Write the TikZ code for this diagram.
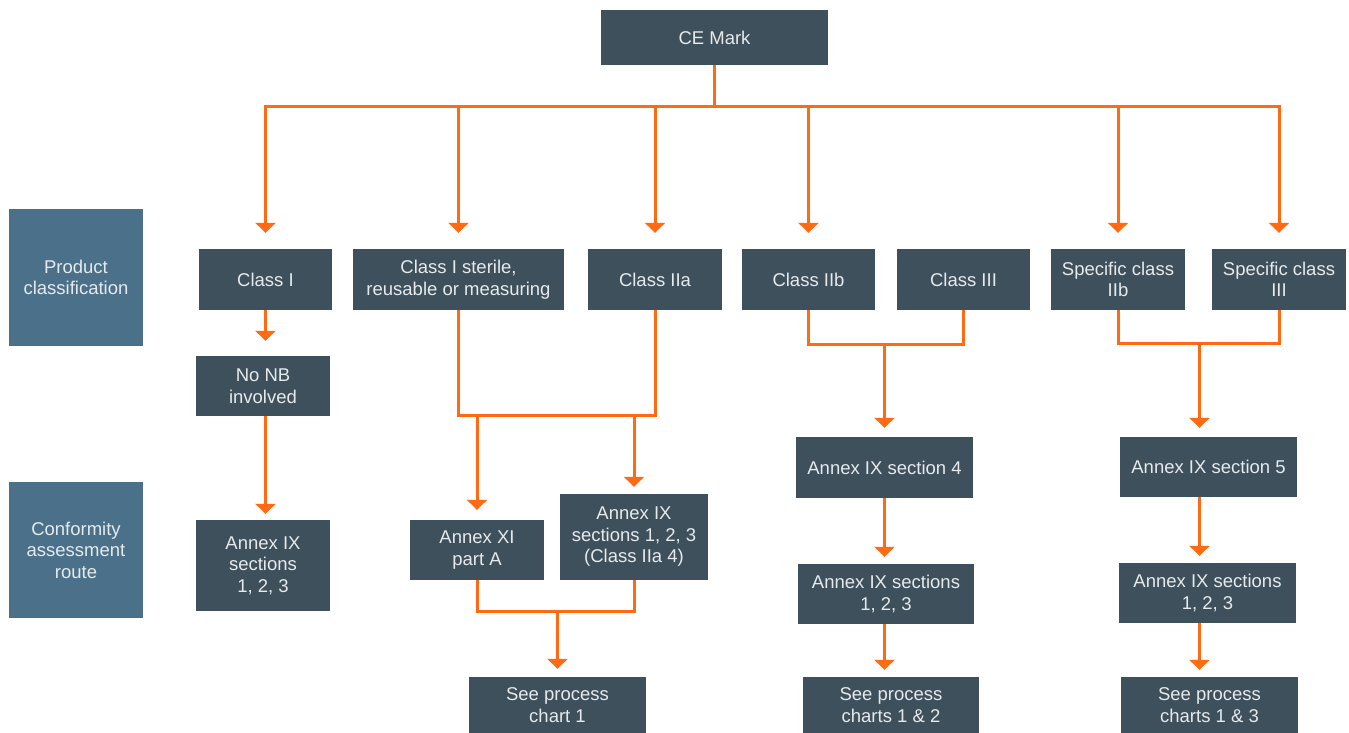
\documentclass[tikz,border=0pt]{standalone}
\usepackage{fontspec}
\setmainfont{Liberation Sans}
\usetikzlibrary{arrows.meta}
\definecolor{boxdark}{HTML}{3E505C}
\definecolor{boxside}{HTML}{4A7189}
\definecolor{flow}{HTML}{FF6A13}
\definecolor{boxtext}{HTML}{E6EAEC}
\tikzset{
  box/.style={fill=boxdark, text=boxtext, inner sep=0pt, align=center,
    font=\fontsize{18.5}{21.5}\selectfont},
  sidebox/.style={box, fill=boxside},
  conn/.style={draw=flow, line width=3pt},
  arr/.style={conn, -{Triangle[width=20pt,length=10pt]}},
}
\begin{document}
\begin{tikzpicture}[x=1pt,y=-1pt]
\useasboundingbox (0,0) rectangle (1349,733);
% nodes
\node[box, minimum width=227pt, minimum height=55pt] (ce) at (714.5,37.5) {CE Mark};
\node[sidebox, minimum width=134pt, minimum height=137pt] (pc) at (76,277.5) {Product\\classification};
\node[sidebox, minimum width=134pt, minimum height=136pt] (car) at (76,550) {Conformity\\assessment\\route};
\node[box, minimum width=133pt, minimum height=61pt] (c1) at (265.5,279.5) {Class I};
\node[box, minimum width=211pt, minimum height=61pt] (c1s) at (458.5,279.5) {Class I sterile,\\reusable or measuring};
\node[box, minimum width=134pt, minimum height=61pt] (c2a) at (655,279.5) {Class IIa};
\node[box, minimum width=133pt, minimum height=61pt] (c2b) at (808.5,279.5) {Class IIb};
\node[box, minimum width=133pt, minimum height=61pt] (c3) at (963.5,279.5) {Class III};
\node[box, minimum width=134pt, minimum height=61pt] (s2b) at (1118,279.5) {Specific class\\IIb};
\node[box, minimum width=134pt, minimum height=61pt] (s3) at (1279,279.5) {Specific class\\III};
\node[box, minimum width=134pt, minimum height=60pt] (nonb) at (263,386) {No NB\\involved};
\node[box, minimum width=134pt, minimum height=91pt] (a1) at (263,565.5) {Annex IX\\sections\\1, 2, 3};
\node[box, minimum width=134pt, minimum height=60pt] (axi) at (477,550) {Annex XI\\part A};
\node[box, minimum width=148pt, minimum height=86pt] (a9) at (634,537) {Annex IX\\sections 1, 2, 3\\(Class IIa 4)};
\node[box, minimum width=177pt, minimum height=56pt] (sp1) at (557.5,705) {See process\\chart 1};
\node[box, minimum width=177pt, minimum height=61pt] (a4) at (884.5,467.5) {Annex IX section 4};
\node[box, minimum width=176pt, minimum height=60pt] (a123b) at (886,594) {Annex IX sections\\1, 2, 3};
\node[box, minimum width=176pt, minimum height=56pt] (sp12) at (891,705) {See process\\charts 1 \& 2};
\node[box, minimum width=177pt, minimum height=60pt] (a5) at (1208.5,467) {Annex IX section 5};
\node[box, minimum width=177pt, minimum height=60pt] (a123c) at (1207.5,593) {Annex IX sections\\1, 2, 3};
\node[box, minimum width=177pt, minimum height=56pt] (sp13) at (1209.5,705) {See process\\charts 1 \& 3};
% coordinates
\coordinate (bus) at (714.5,107);
\coordinate (j1) at (0,415);
\coordinate (j2) at (884.5,344);
\coordinate (j3) at (1199.5,343);
\coordinate (j4) at (557.5,611);
% top bus
\draw[conn] (ce.south) -- (bus);
\draw[conn, line cap=rect] (c1.north |- bus) -- (s3.north |- bus);
\foreach \n in {c1,c1s,c2a,c2b,s2b,s3}
  \draw[arr, shorten >=16pt] (\n.north |- bus) -- (\n.north);
% Class I column
\draw[arr, shorten >=15pt] (c1.south) -- (c1.south |- nonb.north);
\draw[arr, shorten >=6pt] (c1.south |- nonb.south) -- (c1.south |- a1.north);
% Class I sterile / IIa
\draw[conn] (c1s.south) |- (j1 -| c2a.south) -- (c2a.south);
\draw[arr, shorten >=10pt] (j1 -| axi.north) -- (axi.north);
\draw[arr, shorten >=7pt] (j1 -| a9.north) -- (a9.north);
\draw[conn] (axi.south) |- (j4 -| a9.south) -- (a9.south);
\draw[arr, shorten >=8pt] (j4) -- (sp1.north);
% Class IIb / III
\draw[conn] (c2b.south) |- (j2 -| c3.south) -- (c3.south);
\draw[arr, shorten >=9pt] (j2) -- (j2 |- a4.north);
\draw[arr, shorten >=7pt] (j2 |- a4.south) -- (j2 |- a123b.north);
\draw[arr, shorten >=7pt] (j2 |- a123b.south) -- (j2 |- sp12.north);
% Specific
\draw[conn] (s2b.south) |- (j3 -| s3.south) -- (s3.south);
\draw[arr, shorten >=9pt] (j3) -- (j3 |- a5.north);
\draw[arr, shorten >=7pt] (j3 |- a5.south) -- (j3 |- a123c.north);
\draw[arr, shorten >=7pt] (j3 |- a123c.south) -- (j3 |- sp13.north);
\end{tikzpicture}
\end{document}
